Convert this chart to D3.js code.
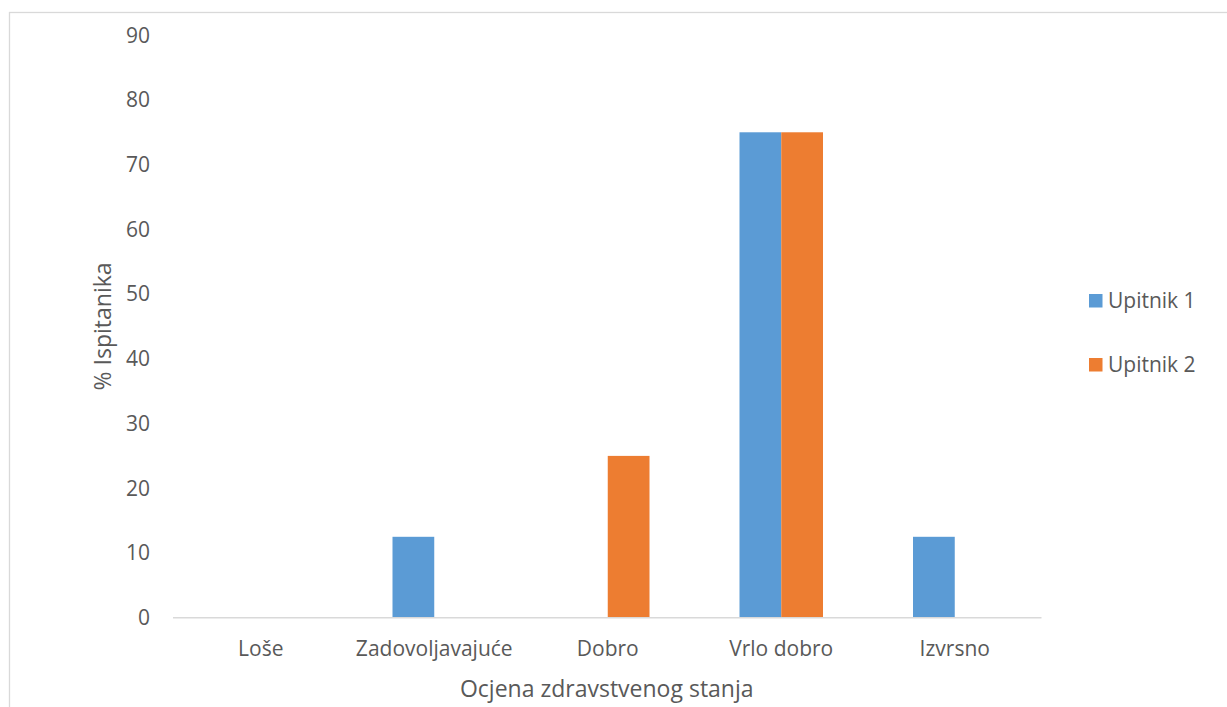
<!DOCTYPE html>
<html><head><meta charset="utf-8">
<script src="https://cdn.jsdelivr.net/npm/d3@7"></script>
<style>body{margin:0;background:#fff}svg{display:block}text{font-family:"Open Sans",sans-serif;fill:#595959}</style>
</head><body><svg id="c" width="1227" height="707"></svg>
<script>
const categories = ["Loše","Zadovoljavajuće","Dobro","Vrlo dobro","Izvrsno"];
const seriesNames = ["Upitnik 1","Upitnik 2"];
const upitnik1 = [0,12.5,0,75,12.5];
const upitnik2 = [0,0,25,75,0];
const yTicks = [0,10,20,30,40,50,60,70,80,90];
const colors = ["#5B9BD5","#ED7D31"];
const xTitle = "Ocjena zdravstvenog stanja";
const yTitle = "% Ispitanika";

const svg = d3.select("#c");
svg.append("rect").attr("x",9.5).attr("y",12.5).attr("width",1240).attr("height",720)
  .attr("fill","none").attr("stroke","#D9D9D9").attr("stroke-width",1.3);

const L=174, R=1041.5, T=35.2, B=617.7;
const x = d3.scaleBand().domain(categories).range([L,R]).padding(0);
const bw = x.bandwidth();
const inner = (bw - 83.5)/2;
const x1 = d3.scaleBand().domain(seriesNames).range([inner, bw-inner]).padding(0);
const y = d3.scaleLinear().domain([0,90]).range([B,T]);

const data = [upitnik1, upitnik2];
seriesNames.forEach((s,si)=>{
  svg.append("g").selectAll("rect").data(categories.map((c,i)=>({c,v:data[si][i]})).filter(d=>d.v>0))
    .join("rect")
    .attr("x",d=>x(d.c)+x1(s)).attr("width",x1.bandwidth())
    .attr("y",d=>y(d.v)).attr("height",d=>y(0)-y(d.v))
    .attr("fill",colors[si]);
});

svg.append("line").attr("x1",L-1).attr("x2",R).attr("y1",B).attr("y2",B)
  .attr("stroke","#D9D9D9").attr("stroke-width",1.5);

svg.append("g").selectAll("text").data(yTicks).join("text")
  .attr("x",150).attr("y",d=>y(d)).attr("dy","0.35em").attr("text-anchor","end")
  .attr("font-size",21).text(d=>d);

svg.append("g").selectAll("text").data(categories).join("text")
  .attr("x",d=>x(d)+bw/2).attr("y",649).attr("dy","0.35em").attr("text-anchor","middle")
  .attr("font-size",21).text(d=>d);

svg.append("text").attr("x",(L+R)/2-1).attr("y",689).attr("dy","0.35em").attr("text-anchor","middle")
  .attr("font-size",23).text(xTitle);
svg.append("text").attr("transform",`translate(103,${(T+B)/2}) rotate(-90)`).attr("dy","0.35em")
  .attr("text-anchor","middle").attr("font-size",23).text(yTitle);

const lg = svg.append("g");
seriesNames.forEach((s,i)=>{
  const yy = 301 + i*64;
  lg.append("rect").attr("x",1089).attr("y",yy-7).attr("width",13.5).attr("height",13.5).attr("fill",colors[i]);
  lg.append("text").attr("x",1108).attr("y",yy).attr("dy","0.35em").attr("font-size",21).text(s);
});
</script></body></html>
